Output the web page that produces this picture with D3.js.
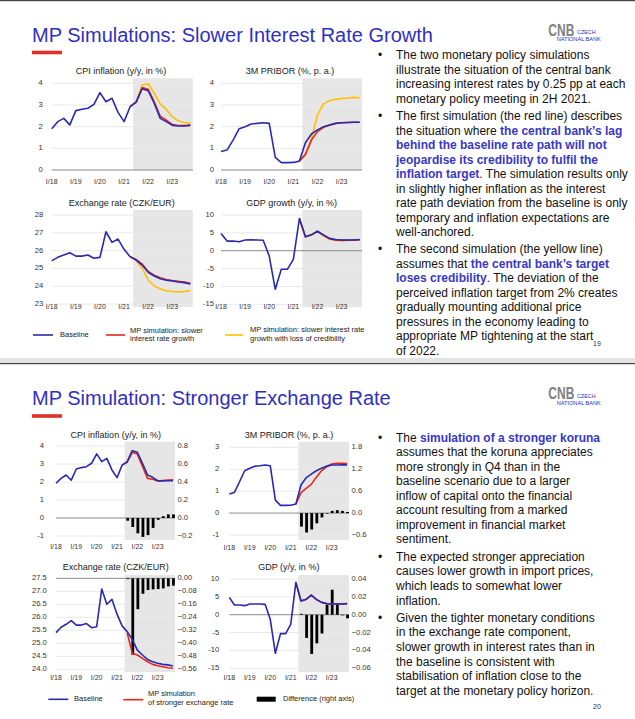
<!DOCTYPE html>
<html>
<head>
<meta charset="utf-8">
<script src="https://cdn.jsdelivr.net/npm/d3@7"></script>
<style>
body { margin: 0; background: #fff; }
svg { display: block; font-family: "Liberation Sans", Arial, sans-serif; }
</style>
</head>
<body>
<div id="chart-area"></div>
<script>
// quarterly categories, 2018Q1 - 2023Q4
const quarters = ["18Q1","18Q2","18Q3","18Q4","19Q1","19Q2","19Q3","19Q4","20Q1","20Q2","20Q3","20Q4",
  "21Q1","21Q2","21Q3","21Q4","22Q1","22Q2","22Q3","22Q4","23Q1","23Q2","23Q3","23Q4"];
const yearQuarters = ["18Q1","19Q1","20Q1","21Q1","22Q1","23Q1"];
const yearLabels = ["I/18","I/19","I/20","I/21","I/22","I/23"];
const simQuarters = ["21Q2","21Q3","21Q4","22Q1","22Q2","22Q3","22Q4","23Q1","23Q2","23Q3","23Q4"];
const diffQuarters = ["21Q3","21Q4","22Q1","22Q2","22Q3","22Q4","23Q1","23Q2","23Q3","23Q4"];
const forecastStart = "21Q2";

// slide 19: slower interest rate growth
const cpiBase1 = [1.9,2.23,2.38,2.08,2.74,2.8,2.85,3.03,3.57,3.15,3.31,2.66,2.23,2.92,3.12,3.75,3.66,3.08,2.38,2.23,2.06,2.03,2.03,2.06];
const cpiSlow1 = [2.92,3.14,3.8,3.72,3.15,2.48,2.3,2.1,2.05,2.05,2.07];
const cpiCred1 = [2.92,3.14,3.92,3.98,3.55,3.05,2.8,2.45,2.27,2.18,2.18];
const priborBase1 = [0.85,0.92,1.38,1.9,2.0,2.12,2.15,2.18,2.15,0.58,0.34,0.34,0.35,0.41,1.26,1.66,1.85,2.0,2.08,2.15,2.18,2.19,2.2,2.2];
const priborSlow1 = [0.41,0.72,1.38,1.77,1.97,2.07,2.15,2.18,2.19,2.2,2.2];
const priborCred1 = [0.41,0.72,1.45,2.54,3.05,3.2,3.26,3.3,3.32,3.35,3.33];
const fxBase1 = [25.42,25.62,25.75,25.88,25.69,25.69,25.75,25.57,25.62,27.06,26.46,26.65,26.07,25.66,25.47,25.19,24.78,24.57,24.42,24.33,24.29,24.24,24.2,24.12];
const fxSlow1 = [25.66,25.5,25.24,24.83,24.62,24.47,24.38,24.32,24.27,24.23,24.17];
const fxCred1 = [25.66,25.45,25.0,24.35,24.01,23.85,23.74,23.7,23.68,23.7,23.75];
const gdpBase1 = [4.85,2.7,2.7,2.5,3.0,3.08,3.0,2.95,-1.5,-10.8,-5.2,-5.2,-2.4,9.0,3.9,4.5,5.5,4.4,3.45,3.1,3.0,3.0,3.0,3.1];
const gdpSlow1 = [9.0,3.9,4.45,5.4,4.3,3.35,3.0,2.9,2.95,3.0,3.05];
const gdpCred1 = [9.0,3.9,4.4,5.35,4.2,3.25,2.85,2.85,2.9,2.95,3.0];

// slide 20: stronger exchange rate
const cpiBase2 = [1.93,2.2,2.39,2.1,2.72,2.8,2.85,3.04,3.56,3.13,3.31,2.67,2.24,2.94,3.13,3.74,3.65,3.04,2.39,2.26,2.07,2.06,2.07,2.07];
const cpiFx2 = [2.94,3.1,3.65,3.55,2.88,2.2,2.15,2.05,2.08,2.11,2.12];
const cpiDiff2 = [-0.03,-0.1,-0.17,-0.21,-0.19,-0.11,-0.02,0.02,0.04,0.04];
const priborBase2 = [0.87,0.94,1.43,1.93,2.04,2.14,2.16,2.19,2.16,0.59,0.35,0.35,0.36,0.41,1.28,1.61,1.78,1.93,2.04,2.14,2.19,2.19,2.2,2.2];
const priborFx2 = [0.41,0.93,1.13,1.31,1.63,1.93,2.11,2.24,2.27,2.27,2.26];
const priborDiff2 = [-0.37,-0.53,-0.45,-0.28,-0.12,-0.01,0.06,0.08,0.06,0.03];
const fxBase2 = [25.41,25.62,25.73,25.87,25.7,25.7,25.76,25.6,25.64,27.09,26.5,26.69,26.12,25.67,25.45,25.15,24.74,24.55,24.38,24.29,24.23,24.19,24.17,24.13];
const fxFx2 = [25.4,24.62,24.55,24.42,24.29,24.19,24.14,24.1,24.06,24.04];
const fxDiff2 = [-0.005,-0.47,-0.19,-0.095,-0.072,-0.068,-0.066,-0.062,-0.05,-0.045];
const gdpBase2 = [4.87,2.72,2.72,2.54,3.0,3.0,3.0,2.9,-1.29,-10.8,-5.3,-5.3,-2.7,9.07,3.84,4.3,5.5,4.3,3.47,3.1,3.0,3.0,3.0,3.1];
const gdpFx2 = [9.07,3.84,4.27,5.46,4.27,3.45,3.11,3.03,3.01,3.0,3.1];
const gdpDiff2 = [0.001,-0.026,-0.044,-0.032,-0.021,0.011,0.028,0.013,0.0,-0.004];

const notes19 = [
  ["The two monetary policy simulations",
   "illustrate the situation of the central bank",
   "increasing interest rates by 0.25 pp at each",
   "monetary policy meeting in 2H 2021."],
  ["The first simulation (the red line) describes",
   "the situation where **the central bank’s lag**",
   "**behind the baseline rate path will not**",
   "**jeopardise its credibility to fulfil the**",
   "**inflation target**. The simulation results only",
   "in slightly higher inflation as the interest",
   "rate path deviation from the baseline is only",
   "temporary and inflation expectations are",
   "well-anchored."],
  ["The second simulation (the yellow line)",
   "assumes that **the central bank’s target**",
   "**loses credibility**. The deviation of the",
   "perceived inflation target from 2% creates",
   "gradually mounting additional price",
   "pressures in the economy leading to",
   "appropriate MP tightening at the start",
   "of 2022."]
];
const notes20 = [
  ["The **simulation of a stronger koruna**",
   "assumes that the koruna appreciates",
   "more strongly in Q4 than in the",
   "baseline scenario due to a larger",
   "inflow of capital onto the financial",
   "account resulting from a marked",
   "improvement in financial market",
   "sentiment."],
  ["The expected stronger appreciation",
   "causes lower growth in import prices,",
   "which leads to somewhat lower",
   "inflation."],
  ["Given the tighter monetary conditions",
   "in the exchange rate component,",
   "slower growth in interest rates than in",
   "the baseline is consistent with",
   "stabilisation of inflation close to the",
   "target at the monetary policy horizon."]
];

const BLUE = "#2a2ab0", RED = "#e8261f", YELLOW = "#ffc000", TITLE = "#3030c0";

const svg = d3.select("#chart-area").append("svg")
  .attr("width", 635)
  .attr("height", 719);

svg.append("rect").attr("width", 635).attr("height", 719).attr("fill", "#fff");
svg.append("rect").attr("x", 0).attr("y", 0).attr("width", 635).attr("height", 1.2).attr("fill", "#444");
svg.append("rect").attr("x", 0).attr("y", 358).attr("width", 635).attr("height", 5).attr("fill", "#e4e4e4");
svg.append("rect").attr("x", 0).attr("y", 363).attr("width", 635).attr("height", 1.2).attr("fill", "#444");

function slideHeader(yOff, title, page, pageY) {
  svg.append("text")
    .attr("x", 32).attr("y", yOff + 41.7)
    .attr("font-size", 20).attr("fill", TITLE)
    .text(title);
  svg.append("rect")
    .attr("x", 32).attr("y", yOff + 50.7)
    .attr("width", 30).attr("height", 3.6)
    .attr("fill", "#e0302a");
  svg.append("text")
    .attr("x", 548.3).attr("y", yOff + 35.7)
    .attr("font-size", 16.5).attr("font-weight", "bold").attr("fill", "#808080")
    .attr("textLength", 26).attr("lengthAdjust", "spacingAndGlyphs")
    .text("CNB");
  svg.append("text")
    .attr("x", 577).attr("y", yOff + 34.2)
    .attr("font-size", 5.4).attr("fill", TITLE)
    .text("CZECH");
  svg.append("text")
    .attr("x", 556.7).attr("y", yOff + 41)
    .attr("font-size", 5.6).attr("fill", TITLE)
    .text("NATIONAL BANK");
  svg.append("text")
    .attr("x", 597).attr("y", pageY)
    .attr("text-anchor", "middle").attr("dominant-baseline", "middle")
    .attr("font-size", 7).attr("fill", "#333")
    .text(page);
}

function drawNotes(notes, firstY, lineH, gap) {
  let yy = firstY;
  notes.forEach(par => {
    svg.append("text")
      .attr("x", 378).attr("y", yy + 4.3)
      .attr("font-size", 12).attr("fill", "#111")
      .text("•");
    par.forEach(line => {
      const t = svg.append("text")
        .attr("x", 396).attr("y", yy + 4.3)
        .attr("font-size", 12).attr("fill", "#111");
      line.split("**").forEach((part, i) => {
        if (!part) return;
        const ts = t.append("tspan").text(part);
        if (i % 2 === 1) ts.attr("font-weight", "bold").attr("fill", "#3838c4");
      });
      yy += lineH;
    });
    yy += gap - lineH;
  });
}

function drawPanel(p) {
  const g = svg.append("g");
  const x = d3.scalePoint().domain(quarters).range([p.x0, p.x0 + 23 * p.step]);
  const y = d3.scaleLinear().domain(p.yDomain).range(p.yRange);
  const shadeX = x(forecastStart) + p.step / 2;
  const right = x(quarters[23]) + p.step * 0.4;

  g.append("rect")
    .attr("x", shadeX).attr("y", p.shade[0])
    .attr("width", right - shadeX).attr("height", p.shade[1] - p.shade[0])
    .attr("fill", "#e6e6e6");

  g.selectAll(".grid")
    .data(p.ticks)
    .enter()
    .append("line")
    .attr("x1", p.x0).attr("x2", right)
    .attr("y1", d => y(d)).attr("y2", d => y(d))
    .attr("stroke", d => d === p.zero ? "#8a8a8a" : "#e8e8e8")
    .attr("stroke-width", 1);

  g.selectAll(".ylab")
    .data(p.ticks)
    .enter()
    .append("text")
    .attr("x", p.x0 - p.labelGap)
    .attr("y", d => y(d))
    .attr("text-anchor", "end")
    .attr("dominant-baseline", "middle")
    .attr("font-size", 7.6).attr("fill", "#333")
    .text(p.fmt);

  let yR = null;
  if (p.right) {
    yR = d3.scaleLinear().domain(p.right.domain).range(p.yRange);
    g.selectAll(".rlab")
      .data(p.right.ticks)
      .enter()
      .append("text")
      .attr("x", right + 2.5)
      .attr("y", d => yR(d))
      .attr("dominant-baseline", "middle")
      .attr("font-size", 7.6).attr("fill", "#333")
      .text(p.right.fmt);
  }

  g.selectAll(".xlab")
    .data(yearQuarters)
    .enter()
    .append("text")
    .attr("x", d => x(d))
    .attr("y", p.labelY)
    .attr("text-anchor", "middle")
    .attr("dominant-baseline", "middle")
    .attr("font-size", 7).attr("fill", "#333")
    .text((d, i) => yearLabels[i]);

  g.append("text")
    .attr("x", p.titleX).attr("y", p.titleY)
    .attr("text-anchor", "middle")
    .attr("dominant-baseline", "middle")
    .attr("font-size", 9).attr("fill", "#222")
    .text(p.title);

  if (p.bars) {
    const bw = p.step * 0.55;
    g.selectAll(".bar")
      .data(p.bars.q.map((q, i) => ({q: q, v: p.bars.v[i]})))
      .enter()
      .append("rect")
      .attr("x", d => x(d.q) - bw / 2 + 0.5)
      .attr("width", bw)
      .attr("y", d => Math.min(yR(0), yR(d.v)))
      .attr("height", d => Math.max(0.6, Math.abs(yR(d.v) - yR(0))))
      .attr("fill", "#000");
  }

  const line = d3.line().x(d => x(d.q)).y(d => y(d.v));
  p.lines.forEach(s => {
    g.append("path")
      .datum(s.q.map((q, i) => ({q: q, v: s.v[i]})))
      .attr("d", line)
      .attr("fill", "none")
      .attr("stroke", s.color)
      .attr("stroke-width", 1.6)
      .attr("stroke-linejoin", "round");
  });
}

function legendLine(x1, x2, yy, color) {
  svg.append("line")
    .attr("x1", x1).attr("x2", x2).attr("y1", yy).attr("y2", yy)
    .attr("stroke", color).attr("stroke-width", 1.6);
}
function legendText(xx, yy, lines) {
  lines.forEach((s, i) => {
    svg.append("text")
      .attr("x", xx).attr("y", yy + i * 8.4)
      .attr("dominant-baseline", "middle")
      .attr("font-size", 7.5).attr("fill", "#222")
      .text(s);
  });
}

const intFmt = d => d;

// ---------- slide 19 ----------
slideHeader(0, "MP Simulations: Slower Interest Rate Growth", "19", 344);

drawPanel({
  title: "CPI inflation (y/y, in %)", titleX: 121, titleY: 72,
  x0: 51.7, step: 6.03, yDomain: [0, 4], yRange: [170, 83.3],
  ticks: [0, 1, 2, 3, 4], zero: 0, fmt: intFmt, labelGap: 9, labelY: 182.3,
  shade: [78.3, 170],
  lines: [
    {q: simQuarters, v: cpiCred1, color: YELLOW},
    {q: simQuarters, v: cpiSlow1, color: RED},
    {q: quarters, v: cpiBase1, color: BLUE}
  ]
});
drawPanel({
  title: "3M PRIBOR (%, p. a.)", titleX: 290, titleY: 72,
  x0: 221, step: 6.03, yDomain: [0, 4], yRange: [170, 83.3],
  ticks: [0, 1, 2, 3, 4], zero: 0, fmt: intFmt, labelGap: 7, labelY: 182.3,
  shade: [78.3, 170],
  lines: [
    {q: simQuarters, v: priborCred1, color: YELLOW},
    {q: simQuarters, v: priborSlow1, color: RED},
    {q: quarters, v: priborBase1, color: BLUE}
  ]
});
drawPanel({
  title: "Exchange rate (CZK/EUR)", titleX: 121.7, titleY: 204,
  x0: 51.7, step: 6.03, yDomain: [23, 28], yRange: [304, 215],
  ticks: [23, 24, 25, 26, 27, 28], zero: null, fmt: intFmt, labelGap: 8.4, labelY: 307.5,
  shade: [210, 307],
  lines: [
    {q: simQuarters, v: fxCred1, color: YELLOW},
    {q: simQuarters, v: fxSlow1, color: RED},
    {q: quarters, v: fxBase1, color: BLUE}
  ]
});
drawPanel({
  title: "GDP growth (y/y, in %)", titleX: 291.7, titleY: 204,
  x0: 221, step: 6.03, yDomain: [-15, 10], yRange: [304.3, 215],
  ticks: [-15, -10, -5, 0, 5, 10], zero: 0, fmt: intFmt, labelGap: 7, labelY: 307.5,
  shade: [210, 307.3],
  lines: [
    {q: simQuarters, v: gdpCred1, color: YELLOW},
    {q: simQuarters, v: gdpSlow1, color: RED},
    {q: quarters, v: gdpBase1, color: BLUE}
  ]
});

legendLine(33, 53, 335, BLUE);
legendText(60, 335, ["Baseline"]);
legendLine(106, 125, 335, RED);
legendText(130, 330.6, ["MP simulation: slower", "interest rate growth"]);
legendLine(225, 243, 335, YELLOW);
legendText(250, 330.2, ["MP simulation: slower interest rate", "growth with loss of credibility"]);

drawNotes(notes19, 55, 14.5, 17.3);

// ---------- slide 20 ----------
slideHeader(363.5, "MP Simulation: Stronger Exchange Rate", "20", 707);

drawPanel({
  title: "CPI inflation (y/y, in %)", titleX: 115.8, titleY: 435.7,
  x0: 56, step: 5.085, yDomain: [-1, 4], yRange: [536, 446],
  ticks: [-1, 0, 1, 2, 3, 4], zero: 0, fmt: intFmt, labelGap: 12, labelY: 546.7,
  shade: [441.7, 540],
  right: {domain: [-0.2, 0.8], ticks: [-0.2, 0, 0.2, 0.4, 0.6, 0.8], fmt: d3.format(".1f")},
  bars: {q: diffQuarters, v: cpiDiff2},
  lines: [
    {q: simQuarters, v: cpiFx2, color: RED},
    {q: quarters, v: cpiBase2, color: BLUE}
  ]
});
drawPanel({
  title: "3M PRIBOR (%, p. a.)", titleX: 289, titleY: 435.7,
  x0: 229.3, step: 5.12, yDomain: [-1, 3], yRange: [535, 447.3],
  ticks: [-1, 0, 1, 2, 3], zero: 0, fmt: intFmt, labelGap: 10, labelY: 547.7,
  shade: [441.7, 540],
  right: {domain: [-0.6, 1.8], ticks: [-0.6, 0, 0.6, 1.2, 1.8], fmt: d3.format(".1f")},
  bars: {q: diffQuarters, v: priborDiff2},
  lines: [
    {q: simQuarters, v: priborFx2, color: RED},
    {q: quarters, v: priborBase2, color: BLUE}
  ]
});
drawPanel({
  title: "Exchange rate (CZK/EUR)", titleX: 115.8, titleY: 568,
  x0: 56, step: 5.085, yDomain: [24, 27.5], yRange: [669.3, 578.3],
  ticks: [24, 24.5, 25, 25.5, 26, 26.5, 27, 27.5], zero: 27.5, fmt: d3.format(".1f"), labelGap: 9.3, labelY: 678.3,
  shade: [575, 672],
  right: {domain: [-0.56, 0], ticks: [-0.56, -0.48, -0.4, -0.32, -0.24, -0.16, -0.08, 0], fmt: d3.format(".2f")},
  bars: {q: diffQuarters, v: fxDiff2},
  lines: [
    {q: diffQuarters, v: fxFx2, color: RED},
    {q: quarters, v: fxBase2, color: BLUE}
  ]
});
drawPanel({
  title: "GDP (y/y, in %)", titleX: 288.8, titleY: 568,
  x0: 229.3, step: 5.12, yDomain: [-15, 10], yRange: [668.3, 579],
  ticks: [-15, -10, -5, 0, 5, 10], zero: 0, fmt: intFmt, labelGap: 10, labelY: 678.3,
  shade: [575, 672],
  right: {domain: [-0.06, 0.04], ticks: [-0.06, -0.04, -0.02, 0, 0.02, 0.04], fmt: d3.format(".2f")},
  bars: {q: diffQuarters, v: gdpDiff2},
  lines: [
    {q: simQuarters, v: gdpFx2, color: RED},
    {q: quarters, v: gdpBase2, color: BLUE}
  ]
});

legendLine(48.3, 68.3, 699.3, BLUE);
legendText(74, 699.3, ["Baseline"]);
legendLine(123.3, 143.3, 699.7, RED);
legendText(148, 694.3, ["MP simulation", "of stronger exchange rate"]);
svg.append("rect").attr("x", 256.7).attr("y", 696.7).attr("width", 19).attr("height", 5).attr("fill", "#000");
legendText(283, 699.3, ["Difference (right axis)"]);

drawNotes(notes20, 437.3, 14.55, 17.4);
</script>
</body>
</html>
